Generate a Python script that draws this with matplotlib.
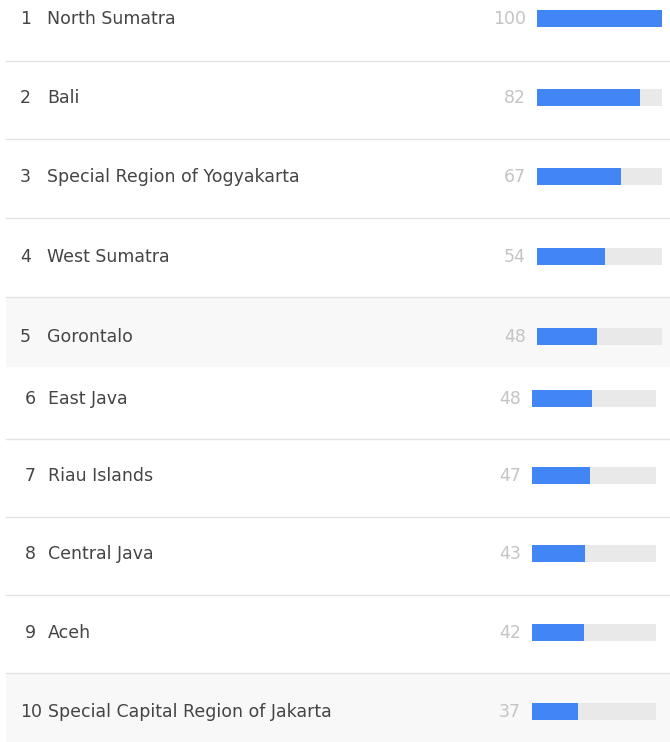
import matplotlib
matplotlib.use("Agg")
import matplotlib.pyplot as plt
from matplotlib.patches import Rectangle

ranks = ["1", "2", "3", "4", "5", "6", "7", "8", "9", "10"]
regions = ["North Sumatra", "Bali", "Special Region of Yogyakarta", "West Sumatra",
           "Gorontalo", "East Java", "Riau Islands", "Central Java", "Aceh",
           "Special Capital Region of Jakarta"]
values = [100, 82, 67, 54, 48, 48, 47, 43, 42, 37]

W, H = 670, 742
fig = plt.figure(figsize=(W / 100, H / 100), dpi=100)
ax = fig.add_axes([0, 0, 1, 1])
ax.set_xlim(0, W)
ax.set_ylim(H, 0)
ax.axis("off")

plt.rcParams['font.family'] = ['DejaVu Sans']

# layout (two screenshot halves with slightly different offsets)
centers = [18, 97, 176, 256, 336, 398, 475, 553, 632, 711]
seps = [61, 139, 218, 297, 439, 517, 595, 673]
gray_rows = [(297, 367), (673, 742)]

for y0, y1 in gray_rows:
    ax.add_patch(Rectangle((6, y0), W - 6, y1 - y0, facecolor="#f8f8f8", edgecolor="none", zorder=0))
for s in seps:
    ax.plot([6, W], [s, s], color="#e4e4e4", lw=1.0, zorder=1)

FS = 12.5
bar_h = 17
for i, (rk, name, v) in enumerate(zip(ranks, regions, values)):
    y = centers[i]
    if i < 5:
        bx, tw, nx, lx, vx = 537, 125, 20, 47, 526
    else:
        bx, tw, nx, lx, vx = 532, 124, 20, 48, 521
    if i >= 5 and rk != "10":
        nx = 25
    # track
    ax.barh(y, tw, left=bx, height=bar_h, color="#e9e9e9", zorder=2)
    ax.barh(y, v / 100 * tw, left=bx, height=bar_h, color="#4285f4", zorder=3)
    ty = y + 1
    ax.text(nx, ty, rk, fontsize=FS, color="#444444", va="center", ha="left")
    ax.text(lx, ty, name, fontsize=FS, color="#444444", va="center", ha="left")
    ax.text(vx, ty, str(v), fontsize=FS, color="#c4c4c4", va="center", ha="right")

fig.savefig("out.png", dpi=100, facecolor="white")
